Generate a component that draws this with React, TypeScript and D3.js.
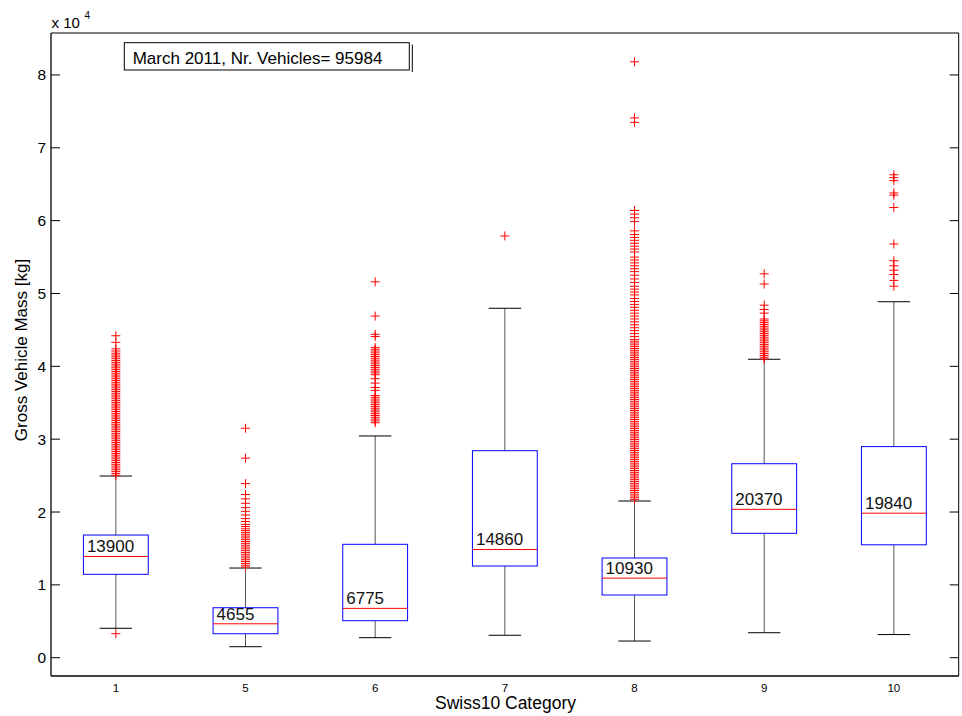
import React from "react";
import * as d3 from "d3";

const categories = ["1", "5", "6", "7", "8", "9", "10"];
const q1 = [11450, 3290, 5080, 12590, 8610, 17080, 15500];
const medians = [13900, 4655, 6775, 14860, 10930, 20370, 19840];
const q3 = [16840, 6860, 15570, 28420, 13690, 26630, 28980];
const lowerWhisker = [4040, 1510, 2750, 3080, 2290, 3430, 3180];
const upperWhisker = [24940, 12310, 30440, 47970, 21510, 40970, 48870];

const outliers1 = [44200, 43300, 42400, 42100, 41800, 41550, 41300, 41050, 40800, 40550, 40300, 40050, 39800, 39550, 39300, 39050, 38800, 38550, 38300, 38050, 37800, 37550, 37300, 37050, 36800, 36550, 36300, 36050, 35800, 35550, 35300, 35050, 34800, 34550, 34300, 34050, 33800, 33550, 33300, 33050, 32800, 32550, 32300, 32050, 31800, 31550, 31300, 31050, 30800, 30550, 30300, 30050, 29800, 29550, 29300, 29050, 28800, 28550, 28300, 28050, 27800, 27550, 27300, 27050, 26800, 26550, 26300, 26050, 25800, 25550, 25300, 25050, 3300];
const outliers5 = [31500, 27400, 23900, 22400, 21800, 21200, 20600, 20100, 19600, 19100, 18700, 18300, 18000, 17700, 17450, 17200, 16950, 16700, 16450, 16200, 15950, 15700, 15450, 15200, 14950, 14700, 14450, 14200, 13950, 13700, 13450, 13200, 12950, 12700, 12450];
const outliers6 = [51600, 46900, 44400, 44100, 42600, 42350, 42100, 41850, 41600, 41350, 41100, 40850, 40600, 40350, 40100, 39850, 39600, 39350, 39100, 38850, 38300, 37700, 37100, 36700, 36000, 35750, 35500, 35250, 35000, 34750, 34500, 34250, 34000, 33750, 33500, 33250, 33000, 32750, 32500, 32250];
const outliers7 = [57900];
const outliers8 = [81800, 74100, 73500, 61400, 60900, 60400, 59900, 58600, 58100, 57700, 57300, 56900, 56500, 56100, 55700, 55000, 54600, 54200, 53800, 53400, 53000, 52500, 52000, 51500, 51000, 50600, 50200, 49800, 49300, 48900, 48500, 48100, 47700, 47300, 46900, 46500, 46100, 45700, 45300, 44900, 44500, 44100, 43700, 43450, 43200, 42950, 42700, 42450, 42200, 41950, 41700, 41450, 41200, 40950, 40700, 40450, 40200, 39950, 39700, 39450, 39200, 38950, 38700, 38450, 38200, 37950, 37700, 37450, 37200, 36950, 36700, 36450, 36200, 35950, 35700, 35450, 35200, 34950, 34700, 34450, 34200, 33950, 33700, 33450, 33200, 32950, 32700, 32450, 32200, 31950, 31700, 31450, 31200, 30950, 30700, 30450, 30200, 29950, 29700, 29450, 29200, 28950, 28700, 28450, 28200, 27950, 27700, 27450, 27200, 26950, 26700, 26450, 26200, 25950, 25700, 25450, 25200, 24950, 24700, 24450, 24200, 23950, 23700, 23450, 23200, 22950, 22700, 22450, 22200, 21950, 21700];
const outliers9 = [52700, 51300, 48400, 47800, 47300, 46500, 46250, 46000, 45750, 45500, 45250, 45000, 44750, 44500, 44250, 44000, 43750, 43500, 43250, 43000, 42750, 42500, 42250, 42000, 41750, 41500, 41250, 41000];
const outliers10 = [66300, 65900, 65500, 63800, 63500, 61800, 56800, 54500, 53800, 53200, 52600, 51800, 51000];
const outliers = [outliers1, outliers5, outliers6, outliers7, outliers8, outliers9, outliers10];

const yTicks = [0, 10000, 20000, 30000, 40000, 50000, 60000, 70000, 80000];
const yTickLabels = ["0", "1", "2", "3", "4", "5", "6", "7", "8"];
const annotation = "March 2011, Nr. Vehicles= 95984";
const xTitle = "Swiss10 Category";
const yTitle = "Gross Vehicle Mass [kg]";

const W = 962;
const H = 716;
const left = 51;
const right = 958.7;
const top = 33;
const bottom = 676;
const FONT = "'Liberation Sans', Arial, Helvetica, sans-serif";

export default function App() {
  const x = d3.scalePoint<string>().domain(categories).range([left, right]).padding(0.5);
  const y = d3.scaleLinear().domain([-2510, 85760]).range([bottom, top]);
  const step = x.step();
  const boxHalf = step * 0.25;
  const capHalf = step * 0.125;
  const tickLen = 9;
  const m = 4.5;

  return (
    <svg
      width={W}
      height={H}
      style={{ position: "absolute", left: 0, top: 0, background: "#fff" }}
      fontFamily={FONT}
    >
      <rect x={0} y={0} width={W} height={H} fill="#fff" />
      {categories.map((c, i) => {
        const cx = x(c)!;
        return (
          <g key={c}>
            <line x1={cx} x2={cx} y1={y(upperWhisker[i])} y2={y(q3[i])} stroke="#555" strokeWidth={1} />
            <line x1={cx} x2={cx} y1={y(q1[i])} y2={y(lowerWhisker[i])} stroke="#555" strokeWidth={1} />
            <line x1={cx - capHalf} x2={cx + capHalf} y1={y(upperWhisker[i])} y2={y(upperWhisker[i])} stroke="#000" strokeWidth={1} />
            <line x1={cx - capHalf} x2={cx + capHalf} y1={y(lowerWhisker[i])} y2={y(lowerWhisker[i])} stroke="#000" strokeWidth={1} />
            <rect
              x={cx - boxHalf}
              y={y(q3[i])}
              width={boxHalf * 2}
              height={y(q1[i]) - y(q3[i])}
              fill="none"
              stroke="#0000ff"
              strokeWidth={1}
            />
            <line x1={cx - boxHalf} x2={cx + boxHalf} y1={y(medians[i])} y2={y(medians[i])} stroke="#ff0000" strokeWidth={1} />
            {outliers[i].map((v, j) => (
              <path
                key={j}
                d={`M${cx - m},${y(v)}H${cx + m}M${cx},${y(v) - m}V${y(v) + m}`}
                stroke="#ff0000"
                strokeWidth={1}
                fill="none"
              />
            ))}
            <text x={cx - boxHalf + 3.5} y={y(medians[i]) - 4} fontSize={17} fill="#111">
              {String(medians[i])}
            </text>
          </g>
        );
      })}
      <line x1={left} x2={right} y1={top} y2={top} stroke="#000" strokeWidth={1} />
      <line x1={right} x2={right} y1={top} y2={bottom} stroke="#000" strokeWidth={1} />
      <line x1={left} x2={left} y1={top} y2={bottom} stroke="#000" strokeWidth={1.3} />
      <line x1={left} x2={right} y1={bottom} y2={bottom} stroke="#000" strokeWidth={1.6} />
      {yTicks.map((t, i) => (
        <g key={t}>
          <line x1={left} x2={left + tickLen} y1={y(t)} y2={y(t)} stroke="#000" strokeWidth={1} />
          <line x1={right} x2={right - tickLen} y1={y(t)} y2={y(t)} stroke="#000" strokeWidth={1} />
          <text x={left - 5} y={y(t) + 5.5} fontSize={15.5} textAnchor="end" fill="#000">
            {yTickLabels[i]}
          </text>
        </g>
      ))}
      {categories.map((c) => (
        <text key={c} x={x(c)!} y={692} fontSize={11.5} textAnchor="middle" fill="#000">
          {c}
        </text>
      ))}
      <text x={51.5} y={28} fontSize={15} fill="#000">x 10</text>
      <text x={84.5} y={18.5} fontSize={10} fill="#000">4</text>
      <text x={505.5} y={709} fontSize={17.5} textAnchor="middle" fill="#000">
        {xTitle}
      </text>
      <text
        transform={`translate(27, 350) rotate(-90)`}
        fontSize={17}
        textAnchor="middle"
        fill="#000"
      >
        {yTitle}
      </text>
      <rect x={124.3} y={42.7} width={285} height={27.3} fill="#fff" stroke="#000" strokeWidth={1} />
      <line x1={412.3} x2={412.3} y1={44.5} y2={72} stroke="#000" strokeWidth={1} />
      <text x={132.7} y={64} fontSize={17} fill="#000">
        {annotation}
      </text>
    </svg>
  );
}
